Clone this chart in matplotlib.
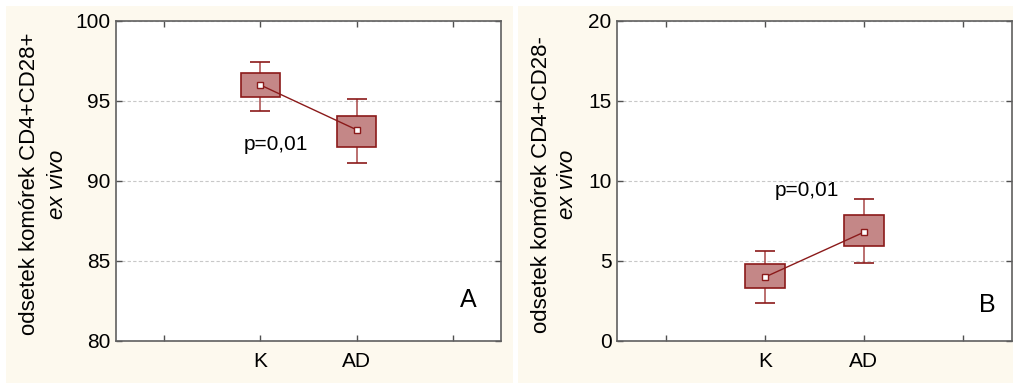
import matplotlib
matplotlib.use("Agg")
import matplotlib.pyplot as plt
from matplotlib.patches import Rectangle
import numpy as np

plt.rcParams['font.family'] = ['Liberation Sans', 'DejaVu Sans']

groups = ['K', 'AD']

# panel A: CD4+CD28+
a_mean = [96.0, 93.2]
a_box_lo = [95.25, 92.15]
a_box_hi = [96.75, 94.05]
a_whisk_lo = [94.4, 91.15]
a_whisk_hi = [97.45, 95.1]

# panel B: CD4+CD28-
b_mean = [4.0, 6.8]
b_box_lo = [3.3, 5.95]
b_box_hi = [4.8, 7.85]
b_whisk_lo = [2.4, 4.9]
b_whisk_hi = [5.65, 8.9]

box_face = '#c48787'
box_edge = '#8b1a1a'
whisk_col = '#a84848'
cream = '#fdf9ee'

fig = plt.figure(figsize=(10.13, 3.85), dpi=100)
fig.patch.set_facecolor('white')
fig.patches.append(Rectangle((6/1013, 2/385), 507/1013, 377/385, transform=fig.transFigure,
                             facecolor=cream, edgecolor='none', zorder=-10))
fig.patches.append(Rectangle((518/1013, 2/385), 495/1013, 377/385, transform=fig.transFigure,
                             facecolor=cream, edgecolor='none', zorder=-10))


def panel(rect, mean, blo, bhi, wlo, whi, ylim, yticks, ylabel, ptext, pxy, letter, lxy, lab_x):
    ax = fig.add_axes(rect)
    ax.set_facecolor('white')
    x = np.array([1, 2])
    mean = np.array(mean); blo = np.array(blo); bhi = np.array(bhi)
    wlo = np.array(wlo); whi = np.array(whi)

    ax.vlines(x, wlo, whi, color=whisk_col, lw=1.1, zorder=2)
    ax.hlines(wlo, x - 0.105, x + 0.105, color=box_edge, lw=1.2, zorder=2)
    ax.hlines(whi, x - 0.105, x + 0.105, color=box_edge, lw=1.2, zorder=2)
    ax.bar(x, bhi - blo, bottom=blo, width=0.4, color=box_face, edgecolor=box_edge,
           linewidth=1.2, zorder=3)
    ax.plot(x, mean, color=box_edge, lw=1.0, marker='s', markersize=4.5,
            markerfacecolor='white', markeredgecolor=box_edge, markeredgewidth=1.0, zorder=4)

    ax.set_xlim(-0.5, 3.5)
    ax.set_ylim(*ylim)
    ax.set_xticks([0, 1, 2, 3])
    ax.set_xticklabels(['', groups[0], groups[1], ''])
    ax.set_yticks(yticks)
    ax.tick_params(direction='in', top=True, right=True, length=4, width=1,
                   color='#505050', labelsize=15)
    ax.tick_params(axis='x', pad=8)
    ax.tick_params(axis='y', pad=4)
    ax.yaxis.grid(True, linestyle=(0, (3, 2)), color='#c8c8c8', lw=0.8)
    ax.set_axisbelow(True)
    for s in ax.spines.values():
        s.set_color('#606060')
        s.set_linewidth(1.2)

    ax.text(lab_x[0], 0.49, ylabel, rotation=90, transform=ax.transAxes,
            ha='center', va='center', fontsize=16)
    ax.text(lab_x[1], 0.49, 'ex vivo', rotation=90, transform=ax.transAxes,
            ha='center', va='center', fontsize=16, style='italic')
    ax.text(pxy[0], pxy[1], ptext, ha='center', va='center', fontsize=15, zorder=5)
    ax.text(lxy[0], lxy[1], letter, transform=ax.transAxes, ha='center', va='center',
            fontsize=18)
    return ax


panel([116/1013, 44/385, 385/1013, 320/385], a_mean, a_box_lo, a_box_hi, a_whisk_lo, a_whisk_hi,
      (80, 100), [80, 85, 90, 95, 100], 'odsetek komórek CD4+CD28+', 'p=0,01', (1.16, 92.25),
      'A', (0.914, 0.128), (-0.225, -0.153))

panel([617/1013, 44/385, 395/1013, 320/385], b_mean, b_box_lo, b_box_hi, b_whisk_lo, b_whisk_hi,
      (0, 20), [0, 5, 10, 15, 20], 'odsetek komórek CD4+CD28-', 'p=0,01', (1.42, 9.4),
      'B', (0.9375, 0.1125), (-0.19, -0.125))

fig.savefig('out.png', dpi=100)
